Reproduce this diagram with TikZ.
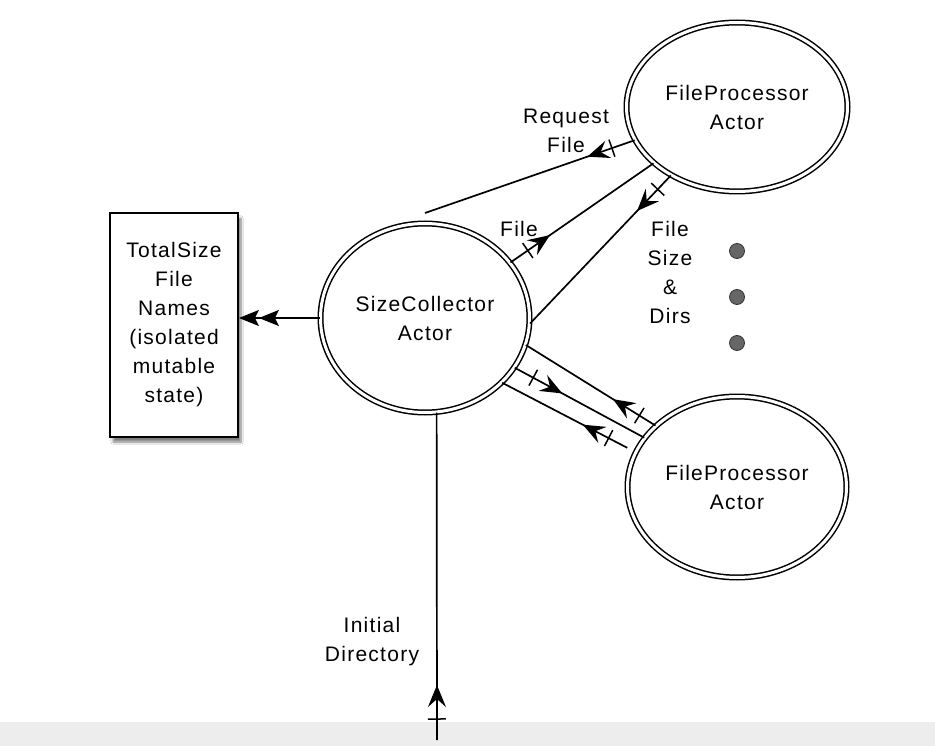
\documentclass[tikz,border=0pt]{standalone}
\usepackage{fontspec}
\setmainfont{Liberation Sans}[LetterSpace=6]
\usetikzlibrary{shapes.geometric,arrows.meta,decorations.markings,calc,shadows.blur}
\newcommand\dfont{\fontsize{21}{29}\selectfont}
\begin{document}
\begin{tikzpicture}[x=1pt,y=-1pt,
  every node/.style={font=\dfont, align=center, inner sep=0pt},
  actor/.style 2 args={ellipse, draw, double, double distance=3pt, line width=1.5pt,
    minimum width=#1, minimum height=#2},
  msg/.style 2 args={line width=1.7pt, postaction={decorate},
    decoration={markings,
      mark=at position #2 with {\draw[line width=1.5pt] (0,-9pt) -- (0,9pt);},
      mark=at position #1 with {\arrow{Stealth[length=22pt,width=18pt,inset=8pt]}}}},
  statebox/.style={draw, line width=1.8pt, fill=white, minimum width=128, minimum height=224,
    blur shadow={shadow xshift=3pt, shadow yshift=-5pt, shadow blur steps=8, shadow opacity=50}},
  dot/.style={circle, draw=black!80, line width=0.8pt, fill=black!60, minimum size=15}
]
\useasboundingbox (0,0) rectangle (935,746);
\fill[white] (0,0) rectangle (935,746);
\fill[black!7] (0,722) rectangle (935,746);

\node[statebox] (box) at (174,325) {TotalSize\\File\\Names\\(isolated\\mutable\\state)};
\node[actor={209}{189}] (sc) at (425,318) {SizeCollector\\Actor};
\node[actor={221}{169}] (fpt) at (737,107) {FileProcessor\\Actor};
\node[actor={219}{181}] (fpb) at (737,487) {FileProcessor\\Actor};

\node[dot] (d1) at (737,251) {};
\node[dot] (d2) at (737,297) {};
\node[dot] (d3) at (737,343) {};

\coordinate (rq) at (425,213);
\coordinate (init) at (437,740);
\coordinate (b3) at ($(fpb.161)!9pt!(sc.-40.5)$);

\draw[msg={50pt}{24pt}] (fpt.198.9) -- (rq);
\draw[msg={48pt}{21pt}] (sc.33.4) -- (fpt.214.9);
\draw[msg={49pt}{19pt}] (fpt.226.9) -- (sc.-3.6);
\draw[msg={50pt}{19pt}] (fpb.143.9) -- (sc.-15.5);
\draw[msg={54pt}{21pt}] (sc.-29) -- (fpb.152.3);
\draw[msg={50pt}{21pt}] (b3) -- (sc.-40.5);
\draw[msg={55pt}{21pt}] (init) -- (sc.-83);
\draw[line width=1.7pt, -{Stealth[length=20pt,width=16pt,inset=4pt]Stealth[length=20pt,width=16pt,inset=4pt]}]
  (sc.west) -- (sc.west -| box.east);

\node (lrq) at (566,131) {Request\\File};
\node (lfile) at (519,229) {File};
\node (lsize) at (670,272) {File\\Size\\\&\\Dirs};
\node (linit) at (372,642) {Initial\\Directory};
\end{tikzpicture}
\end{document}
